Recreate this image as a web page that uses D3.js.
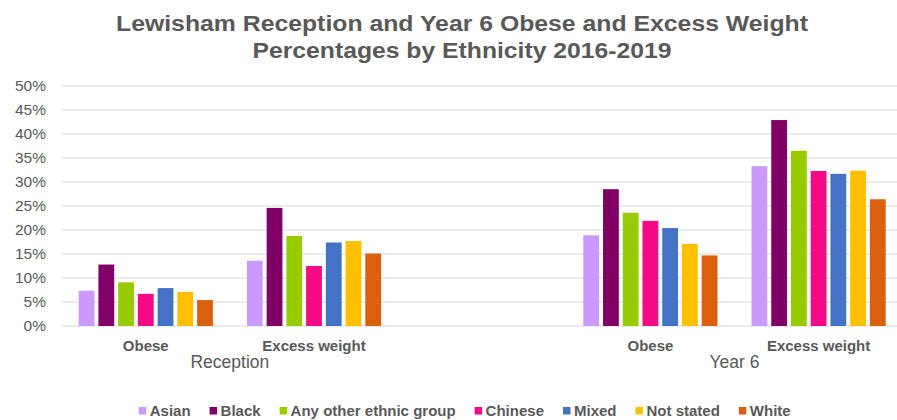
<!DOCTYPE html>
<html>
<head>
<meta charset="utf-8">
<script src="https://cdn.jsdelivr.net/npm/d3@7"></script>
<style>
  html, body { margin: 0; padding: 0; background: #fff; }
  svg { display: block; font-family: "Liberation Sans", Arial, sans-serif; }
</style>
</head>
<body>
<svg id="chart" width="897" height="420"></svg>
<script>
// ---- Data ----
const titleLines = ["Lewisham Reception and Year 6 Obese and Excess Weight", "Percentages by Ethnicity 2016-2019"];
const groups = ["Reception", "Year 6"];
const measures = ["Obese", "Excess weight"];
const series = ["Asian", "Black", "Any other ethnic group", "Chinese", "Mixed", "Not stated", "White"];
const colors = ["#CC99FF", "#800066", "#99CC00", "#F50A85", "#4472C4", "#FFC000", "#DA6010"];
// values in percent: [Reception Obese, Reception Excess weight, Year 6 Obese, Year 6 Excess weight]
const asian    = [7.35, 13.6, 18.9, 33.3];
const black    = [12.8, 24.6, 28.5, 42.9];
const other    = [9.1, 18.75, 23.6, 36.5];
const chinese  = [6.7, 12.5, 21.9, 32.3];
const mixed    = [7.9, 17.4, 20.4, 31.7];
const notStated= [7.1, 17.7, 17.1, 32.35];
const white    = [5.4, 15.1, 14.7, 26.4];
const seriesValues = [asian, black, other, chinese, mixed, notStated, white];
const yTicks = [0, 5, 10, 15, 20, 25, 30, 35, 40, 45, 50];

// ---- Build slots ----
const slots = ["Reception|Obese", "Reception|Excess weight", "gap", "Year 6|Obese", "Year 6|Excess weight"];
const dataSlots = [slots[0], slots[1], slots[3], slots[4]];

const svg = d3.select("#chart");
const textColor = "#595959";

const plotLeft = 61.7, slotW = 168.2;
const x0 = d3.scaleBand().domain(slots).range([plotLeft, plotLeft + slotW * slots.length]).padding(0);
const x1 = d3.scaleBand().domain(series).range([17, x0.bandwidth() - 17]).paddingInner(0.2).paddingOuter(0);
const y = d3.scaleLinear().domain([0, 50]).range([326, 86]);

// gridlines
svg.append("g").selectAll("line").data(yTicks).join("line")
  .attr("x1", plotLeft).attr("x2", 897)
  .attr("y1", d => y(d)).attr("y2", d => y(d))
  .attr("stroke", "#d9d9d9").attr("stroke-width", 1);

// y axis labels
const yAxis = d3.axisLeft(y).tickValues(yTicks).tickFormat(d => d + "%").tickSize(0).tickPadding(0);
const ya = svg.append("g").attr("transform", "translate(46,0)").call(yAxis);
ya.select(".domain").remove();
ya.selectAll("text").attr("fill", textColor).style("font-size", "15.5px")
  .style("font-family", "'Liberation Sans', Arial, sans-serif");

// bars
const barG = svg.append("g");
series.forEach((s, si) => {
  barG.append("g").selectAll("rect").data(seriesValues[si]).join("rect")
    .attr("x", (d, i) => x0(dataSlots[i]) + x1(s))
    .attr("width", x1.bandwidth())
    .attr("y", d => y(d))
    .attr("height", d => y(0) - y(d))
    .attr("fill", colors[si]);
});

// category labels
const catLabels = [];
groups.forEach(g => measures.forEach(m => catLabels.push({ g, m, key: g + "|" + m })));
svg.append("g").selectAll("text").data(catLabels).join("text")
  .attr("x", d => x0(d.key) + x0.bandwidth() / 2)
  .attr("y", 351)
  .attr("text-anchor", "middle")
  .attr("fill", textColor)
  .style("font-size", "15px").style("font-weight", "bold")
  .text(d => d.m);

// group labels
svg.append("g").selectAll("text").data(groups).join("text")
  .attr("x", g => (x0(g + "|" + measures[0]) + x0(g + "|" + measures[1]) + x0.bandwidth()) / 2)
  .attr("y", 368.3)
  .attr("text-anchor", "middle")
  .attr("fill", textColor)
  .style("font-size", "17.5px")
  .text(g => g);

// title
const titleLens = [692, 419];
const titleBase = [31, 58.3];
svg.append("g").selectAll("text").data(titleLines).join("text")
  .attr("x", 462).attr("y", (d, i) => titleBase[i])
  .attr("text-anchor", "middle")
  .attr("fill", textColor)
  .style("font-size", "22px").style("font-weight", "bold")
  .attr("textLength", (d, i) => titleLens[i])
  .attr("lengthAdjust", "spacingAndGlyphs")
  .text(d => d);

// legend
const leg = svg.append("g");
const items = leg.selectAll("g").data(series).join("g");
items.append("rect").attr("width", 7.5).attr("height", 7.5).attr("y", 407)
  .attr("fill", (d, i) => colors[i]);
items.append("text").attr("x", 11).attr("y", 415.7)
  .attr("fill", textColor)
  .style("font-size", "15px").style("font-weight", "bold")
  .text(d => d);
let cx = 0;
const positions = [];
items.each(function () {
  const tw = d3.select(this).select("text").node().getComputedTextLength();
  positions.push(cx);
  cx += 11 + tw + 19;
});
const total = cx - 19;
const startX = 464.7 - total / 2;
items.attr("transform", (d, i) => `translate(${startX + positions[i]},0)`);
</script>
</body>
</html>
